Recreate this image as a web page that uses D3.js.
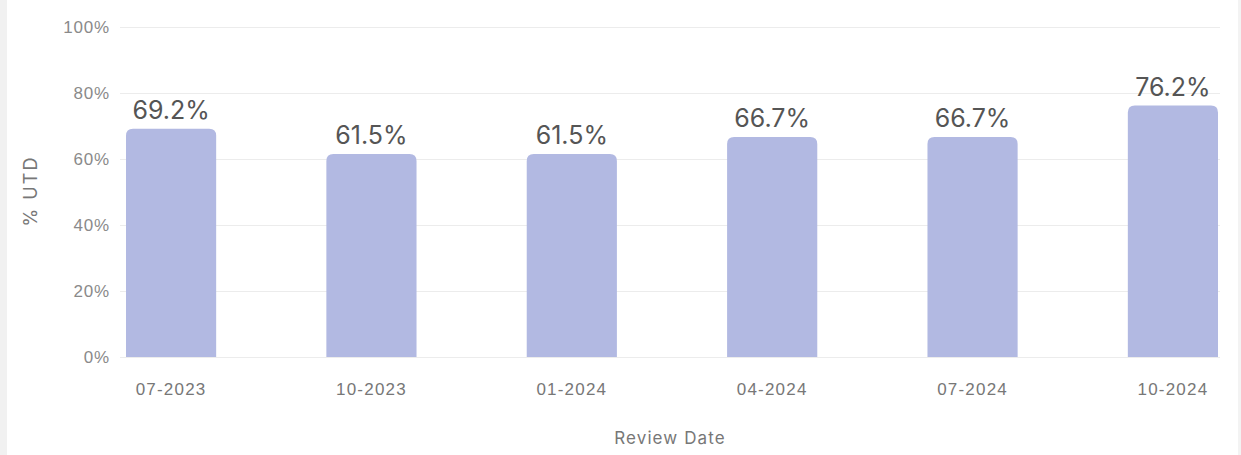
<!DOCTYPE html>
<html>
<head>
<meta charset="utf-8">
<script src="https://cdn.jsdelivr.net/npm/d3@7"></script>
<style>
  body { margin: 0; background: #ffffff; }
  svg { display: block; font-family: Inter, "Noto Sans", sans-serif; }
</style>
</head>
<body>
<div id="chart"></div>
<script>
"use strict";
// data
const reviewDates = ["07-2023", "10-2023", "01-2024", "04-2024", "07-2024", "10-2024"]
const utdValues = [69.2, 61.5, 61.5, 66.7, 66.7, 76.2]
const yTicks = [0, 20, 40, 60, 80, 100]

const size = { width: 1241, height: 455 }
const plot = { left: 120, right: 1220, top: 27, bottom: 357 }

const svg = d3.select("#chart").append("svg")
    .attr("width", size.width)
    .attr("height", size.height)

// card edges
svg.append("rect").attr("x", 0).attr("y", 0).attr("width", 7).attr("height", size.height).attr("fill", "#f1f1f1")
svg.append("rect").attr("x", 1238).attr("y", 0).attr("width", 3).attr("height", size.height).attr("fill", "#f3f3f3")

const x = d3.scaleBand()
    .domain(reviewDates)
    .range([126, 1218])
    .paddingInner(0.55)
    .paddingOuter(0)

const y = d3.scaleLinear()
    .domain([0, 100])
    .range([plot.bottom, plot.top])

// gridlines + y labels
const yAxis = d3.axisLeft(y)
    .tickValues(yTicks)
    .tickSize(-(plot.right - plot.left))
    .tickPadding(10)
    .tickFormat(d => d + "%")

const gy = svg.append("g")
    .attr("transform", `translate(${plot.left},0)`)
    .call(yAxis)
gy.select(".domain").remove()
gy.selectAll(".tick line").attr("stroke", "#ececec").attr("stroke-width", 1)
gy.selectAll(".tick text")
    .attr("fill", "#8a8a8a")
    .attr("font-size", 17)
    .attr("letter-spacing", 0.8)

// x labels
const xAxis = d3.axisBottom(x).tickSize(0).tickPadding(26)
const gx = svg.append("g")
    .attr("transform", `translate(0,${plot.bottom})`)
    .call(xAxis)
gx.select(".domain").remove()
gx.selectAll(".tick text")
    .attr("fill", "#777777")
    .attr("font-size", 17)
    .attr("letter-spacing", 1.2)

// bars with rounded tops
const r = 7
function barPath(d, i) {
    const x0 = x(reviewDates[i]), w = x.bandwidth()
    const yt = y(d), yb = y(0)
    return `M${x0},${yb} V${yt + r} Q${x0},${yt} ${x0 + r},${yt} H${x0 + w - r} Q${x0 + w},${yt} ${x0 + w},${yt + r} V${yb} Z`
}

svg.append("g").selectAll("path")
    .data(utdValues)
    .enter()
    .append("path")
    .attr("d", barPath)
    .attr("fill", "#b2b9e2")

// value labels
svg.append("g").selectAll("text")
    .data(utdValues)
    .enter()
    .append("text")
    .attr("x", (d, i) => x(reviewDates[i]) + x.bandwidth() / 2)
    .attr("y", d => y(d) - 10)
    .attr("text-anchor", "middle")
    .attr("fill", "#555555")
    .attr("font-size", 25)
    .text(d => d.toFixed(1) + "%")

// axis titles
svg.append("text")
    .attr("x", (plot.left + plot.right) / 2)
    .attr("y", 444)
    .attr("text-anchor", "middle")
    .attr("fill", "#777777")
    .attr("font-size", 17)
    .attr("letter-spacing", 1.1)
    .text("Review Date")

svg.append("text")
    .attr("transform", "translate(37,191) rotate(-90)")
    .attr("text-anchor", "middle")
    .attr("fill", "#777777")
    .attr("font-size", 18)
    .attr("letter-spacing", 2)
    .text("% UTD")
</script>
</body>
</html>
